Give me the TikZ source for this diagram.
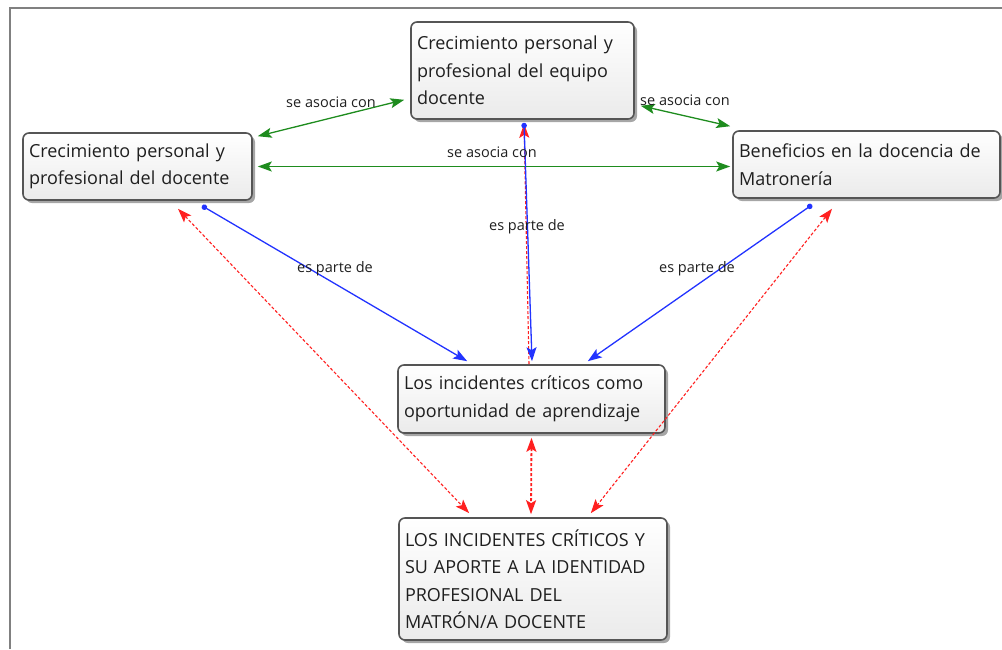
\documentclass[tikz,border=0pt]{standalone}
\usepackage{fontspec}
\setmainfont{Open Sans}
\usetikzlibrary{arrows.meta,shadows,calc}
\definecolor{framegray}{HTML}{808080}
\definecolor{boxedge}{HTML}{555555}
\definecolor{linkgreen}{HTML}{1E8C1E}
\definecolor{linkblue}{HTML}{2233FF}
\definecolor{linkred}{HTML}{FF2020}
\tikzset{
  bigtip/.tip={Stealth[length=14pt,width=10pt,inset=3pt]},
  concept/.style={draw=boxedge, line width=1.6pt, rounded corners=6pt,
    top color=white, bottom color=gray!16,
    drop shadow={shadow xshift=3pt, shadow yshift=-3pt, fill=black, opacity=0.35},
    align=left, inner xsep=6pt, inner ysep=4pt,
    font=\fontsize{18}{27.5}\selectfont, text=black!88},
  linklabel/.style={font=\fontsize{14.5}{16}\selectfont, text=black!88, inner sep=1pt},
  assoc/.style={linkgreen, line width=1.3pt, bigtip-bigtip},
  partof/.style={linkblue, line width=1.3pt, {Circle[length=5.5pt]}-bigtip},
  contrib/.style={linkred, line width=1.1pt, dash pattern=on 3pt off 2pt, bigtip-bigtip},
}
\begin{document}
\begin{tikzpicture}[x=1pt,y=-1pt]
  \useasboundingbox (0,0) rectangle (1002,649);
  % outer frame
  \draw[framegray, line width=2pt] (10,649) -- (10,8) -- (1002,8);

  % concepts
  \node[concept, minimum width=223pt, minimum height=97pt, text width=211pt]
    (A) at (522.5,70.5) {Crecimiento personal y\\profesional del equipo\\docente};
  \node[concept, minimum width=229pt, minimum height=67pt, text width=217pt]
    (B) at (137.5,166.5) {Crecimiento personal y\\profesional del docente};
  \node[concept, minimum width=267pt, minimum height=67pt, text width=255pt]
    (C) at (866.5,164.5) {Beneficios en la docencia de\\Matronería};
  \node[concept, minimum width=267pt, minimum height=68pt, text width=255pt]
    (D) at (531.5,399) {Los incidentes críticos como\\oportunidad de aprendizaje};
  \node[concept, minimum width=268pt, minimum height=122pt, text width=256pt]
    (E) at (533,579) {LOS INCIDENTES CRÍTICOS Y\\SU APORTE A LA IDENTIDAD\\PROFESIONAL DEL\\MATRÓN/A DOCENTE};

  % red dashed links
  \draw[contrib, -bigtip] ($(D.north)+(-2.5,0)$) -- ($(A.south)+(1.5,4)$);
  \draw[contrib, line width=1.8pt] ($(D.south)+(0,4)$) -- ($(E.north)+(-2,-3)$);
  \draw[contrib] ($(B.south)+(40.5,8)$) -- ($(E.north west)+(71,-4)$);
  \draw[contrib] ($(C.south)+(-34.5,10)$) -- ($(E.north east)+(-77,-4)$);

  % green links
  \draw[assoc] ($(A.south west)+(-6,-20)$) -- ($(B.north east)+(5,4)$);
  \draw[assoc] ($(A.south east)+(6,-14)$) -- ($(C.north west)+(-2,-4)$);
  \draw[assoc] ($(B.east)+(5,0)$) -- ($(C.west|-B.east)+(-2,0)$);

  % blue links
  \draw[partof] ($(B.south)+(64.5,5)$) -- ($(D.north west)+(70,-3)$);
  \draw[partof] ($(C.south)+(-54.5,6)$) -- ($(D.north east)+(-78,-3)$);
  \draw[partof] ($(A.south)+(1.5,3)$) -- ($(D.north)+(0.5,-3)$);

  % link labels
  \node[linklabel] (l1) at (331,102) {se asocia con};
  \node[linklabel] (l2) at (685,100) {se asocia con};
  \node[linklabel] (l3) at (492,152) {se asocia con};
  \node[linklabel] (l4) at (335,269) {es parte de};
  \node[linklabel] (l5) at (527,227) {es parte de};
  \node[linklabel] (l6) at (697,269) {es parte de};
\end{tikzpicture}
\end{document}
